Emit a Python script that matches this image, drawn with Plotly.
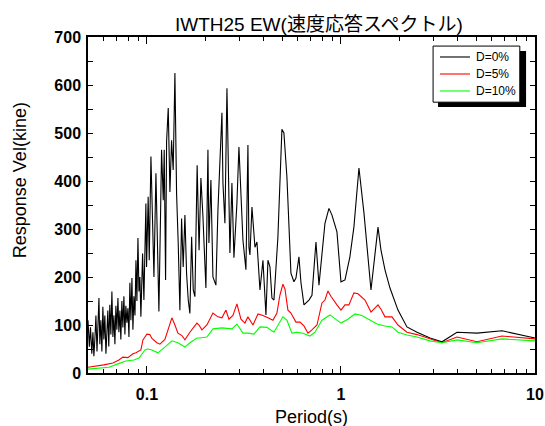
import plotly.graph_objects as go

# ---- data (period in s, response velocity in kine) ----
black_T = [0.0497, 0.0505, 0.0512, 0.0520, 0.0527, 0.0533, 0.0540, 0.0546, 0.0553, 0.0559,
           0.0566, 0.0572, 0.0579, 0.0586, 0.0593, 0.0600, 0.0607, 0.0615, 0.0622, 0.0629,
           0.0636, 0.0644, 0.0652, 0.0660, 0.0668, 0.0676, 0.0684, 0.0692, 0.0700, 0.0709,
           0.0717, 0.0726, 0.0734, 0.0743, 0.0752, 0.0761, 0.0770, 0.0779, 0.0789, 0.0798,
           0.0808, 0.0817, 0.0827, 0.0837, 0.0847, 0.0857, 0.0868, 0.0878, 0.0888, 0.0899,
           0.0910,
           0.0920, 0.0931, 0.0950, 0.0965, 0.0977, 0.0988, 0.0996, 0.1015, 0.1028, 0.1049,
           0.1070, 0.1087, 0.1113, 0.1130, 0.1153, 0.1176, 0.1190, 0.1214, 0.1228, 0.1248,
           0.1263, 0.1288, 0.1314, 0.1340, 0.1366, 0.1394, 0.1422, 0.1450, 0.1479, 0.1509,
           0.1538, 0.1570, 0.1601, 0.1633, 0.1665, 0.1700, 0.1733, 0.1767, 0.1815, 0.1857,
           0.1898, 0.1944, 0.2014, 0.2063, 0.2087, 0.2137, 0.2189, 0.2268, 0.2323, 0.2436,
           0.2465, 0.2524, 0.2585, 0.2678, 0.2742, 0.2808, 0.2910, 0.2980, 0.3088, 0.3125,
           0.3238, 0.3316, 0.3356, 0.3396, 0.3478, 0.3562, 0.3604, 0.3691, 0.3824, 0.3963,
           0.4106, 0.4205, 0.4306, 0.4409, 0.4515, 0.4732, 0.4963, 0.5082, 0.5267, 0.5523,
           0.5724, 0.5862, 0.6075, 0.6222, 0.6447, 0.6842, 0.7090, 0.7434, 0.7704, 0.8271,
           0.8673, 0.8988, 0.9536, 1.000, 1.049, 1.112, 1.166, 1.238, 1.314, 1.428,
           1.552, 1.608, 1.686, 1.789, 1.967, 2.188, 2.466, 2.877, 3.316, 3.963,
           5.023, 6.761, 10.0]
black_V = [110, 55, 95, 40, 85, 35, 75, 120, 45, 100,
           156, 60, 110, 45, 138, 70, 120, 40, 95, 130,
           55, 142, 80, 170, 75, 120, 60, 140, 90, 156,
           85, 130, 70, 150, 95, 160, 80, 140, 105, 135,
           75, 188, 110, 198, 90, 160, 120, 235, 150, 281,
           170,
           200, 117, 249, 152, 252, 353, 221, 367, 235, 451,
           312, 200, 416, 305, 128, 333, 465, 360, 465, 194,
           482, 552, 377, 485, 423, 625, 374, 270, 131, 322,
           221, 329, 208, 152, 124, 284, 173, 159, 433, 256,
           406, 326, 177, 465, 271, 402, 200, 183, 340, 542,
           396, 312, 593, 250, 396, 240, 354, 471, 292, 277,
           215, 475, 262, 246, 346, 283, 262, 273, 173, 235,
           121, 235, 221, 156, 152, 283, 508, 500, 408, 208,
           190, 198, 242, 188, 142, 152, 162, 273, 183, 312,
           343, 329, 294, 190, 194, 242, 304, 427, 333, 173,
           304, 256, 215, 177, 131, 96, 85, 73, 65, 85,
           83, 88, 73]

red_T = [0.0497, 0.0546, 0.0600, 0.0668, 0.0717, 0.0752, 0.0798, 0.0847, 0.0878, 0.0931,
         0.0954, 0.0977, 0.1000, 0.1036, 0.1061, 0.1126, 0.1167, 0.1238, 0.1345, 0.1394,
         0.1445, 0.1515, 0.1570, 0.1665, 0.1810, 0.1854, 0.1921, 0.2038, 0.2189, 0.2323,
         0.2436, 0.2554, 0.2647, 0.2775, 0.2910, 0.3052, 0.3200, 0.3316, 0.3478, 0.3520,
         0.3735, 0.3963, 0.4205, 0.4461, 0.4677, 0.4846, 0.5022, 0.5145, 0.5330, 0.5523,
         0.5862, 0.6148, 0.6447, 0.6681, 0.6761, 0.7090, 0.7523, 0.7982, 0.8271, 0.8570,
         0.8872, 0.9536, 1.000, 1.049, 1.099, 1.166, 1.224, 1.330, 1.428, 1.552,
         1.608, 1.686, 1.832, 1.967, 2.188, 2.466, 2.877, 3.316, 3.963, 5.023,
         6.761, 10.0]
red_V = [12, 14, 17, 21, 27, 33, 32, 40, 42, 48,
         69, 75, 81, 80, 72, 63, 60, 70, 115, 100,
         83, 78, 69, 85, 104, 100, 90, 100, 125, 117,
         115, 131, 112, 120, 144, 112, 104, 117, 104, 100,
         123, 120, 115, 110, 125, 162, 185, 175, 131, 125,
         106, 106, 98, 85, 83, 90, 100, 146, 152, 171,
         160, 142, 131, 142, 142, 167, 165, 152, 127, 142,
         133, 117, 117, 100, 85, 80, 71, 63, 75, 65,
         77, 71]

green_T = [0.0497, 0.0572, 0.0637, 0.0709, 0.0779, 0.0857, 0.0910, 0.0977, 0.1012, 0.1061,
           0.1139, 0.1238, 0.1345, 0.1445, 0.1570, 0.1665, 0.1810, 0.1876, 0.2038, 0.2189,
           0.2436, 0.2742, 0.2910, 0.3125, 0.3316, 0.3562, 0.3824, 0.4155, 0.4515, 0.5022,
           0.5267, 0.5589, 0.5932, 0.6371, 0.6924, 0.7345, 0.7982, 0.8777, 0.9420, 1.000,
           1.086, 1.180, 1.282, 1.411, 1.534, 1.686, 1.832, 1.967, 2.188, 2.466,
           2.877, 3.316, 3.963, 5.023, 6.761, 10.0]
green_V = [8, 10, 12, 19, 25, 27, 31, 48, 50, 48,
           42, 54, 67, 63, 54, 63, 73, 73, 75, 92,
           94, 92, 102, 83, 83, 81, 96, 95, 85, 117,
           110, 83, 85, 83, 77, 85, 110, 121, 112, 104,
           112, 123, 120, 110, 102, 98, 96, 85, 79, 75,
           67, 63, 69, 63, 71, 67]

series_names = ["D=0%", "D=5%", "D=10%"]
series_colors = ["#000000", "#ff0000", "#00ff00"]

title_text = "IWTH25 EW(速度応答スペクトル)"
x_title = "Period(s)"
y_title = "Response Vel(kine)"

FONT = "Liberation Sans, Arial, Noto Sans CJK JP"

fig = go.Figure()
for T, V, name, col in zip([black_T, red_T, green_T], [black_V, red_V, green_V],
                           series_names, series_colors):
    fig.add_trace(go.Scatter(x=T, y=V, mode="lines", name=name,
                             line=dict(color=col, width=1.1)))

# boxed legend with drop shadow (paper coordinates)
shapes = [
    dict(type="rect", xref="paper", yref="paper", x0=0.783, x1=0.980, y0=0.792, y1=0.958,
         fillcolor="black", line=dict(width=0), layer="above"),
    dict(type="rect", xref="paper", yref="paper", x0=0.772, x1=0.966, y0=0.806, y1=0.973,
         fillcolor="white", line=dict(color="black", width=1), layer="above"),
]
annotations = [
    dict(text=title_text, x=0.517, xref="paper", y=1.0, yref="paper",
         xanchor="center", yanchor="bottom", showarrow=False,
         font=dict(size=19, family=FONT)),
    dict(text=y_title, x=-0.152, xref="paper", y=0.574, yref="paper",
         xanchor="center", yanchor="middle", textangle=-90, showarrow=False,
         font=dict(size=18, family=FONT)),
    dict(text=x_title, x=0.5, xref="paper", y=-0.131, yref="paper",
         xanchor="center", yanchor="middle", showarrow=False,
         font=dict(size=18, family=FONT)),
]
row_y = [0.9405, 0.8899, 0.8393]
for name, col, yy in zip(series_names, series_colors, row_y):
    shapes.append(dict(type="line", xref="paper", yref="paper", x0=0.7875, x1=0.8546,
                       y0=yy, y1=yy, line=dict(color=col, width=1.1), layer="above"))
    annotations.append(dict(text=name, x=0.8635, xref="paper", y=yy, yref="paper",
                            xanchor="left", yanchor="middle", showarrow=False,
                            font=dict(size=12, family=FONT)))

fig.update_layout(
    width=545, height=426,
    margin=dict(l=88, r=10, t=37, b=53),
    paper_bgcolor="white", plot_bgcolor="white",
    font=dict(family=FONT, color="black"),
    showlegend=False,
    annotations=annotations,
    shapes=shapes,
)

fig.update_xaxes(
    type="log", range=[-1.3036, 1.0], automargin=False,
    tickmode="linear", tick0=0, dtick=1,
    ticks="inside", ticklen=7, tickwidth=1, tickcolor="black",
    minor=dict(ticks="inside", ticklen=4, dtick="D1", tickcolor="black", showgrid=False),
    showline=True, linecolor="black", linewidth=1.5, mirror="ticks",
    showgrid=False, zeroline=False, ticklabelstandoff=6,
    tickfont=dict(size=16, family=FONT, weight="bold"),
)
fig.update_yaxes(
    range=[0, 700], automargin=False, tickmode="linear", tick0=0, dtick=100,
    ticks="inside", ticklen=5, tickwidth=1, tickcolor="black",
    minor=dict(ticks="inside", ticklen=5, dtick=50, tickcolor="black", showgrid=False),
    showline=True, linecolor="black", linewidth=1.5, mirror="ticks",
    showgrid=False, zeroline=False, ticklabelstandoff=2,
    tickfont=dict(size=16, family=FONT, weight="bold"),
)

fig.write_html("out.html")
